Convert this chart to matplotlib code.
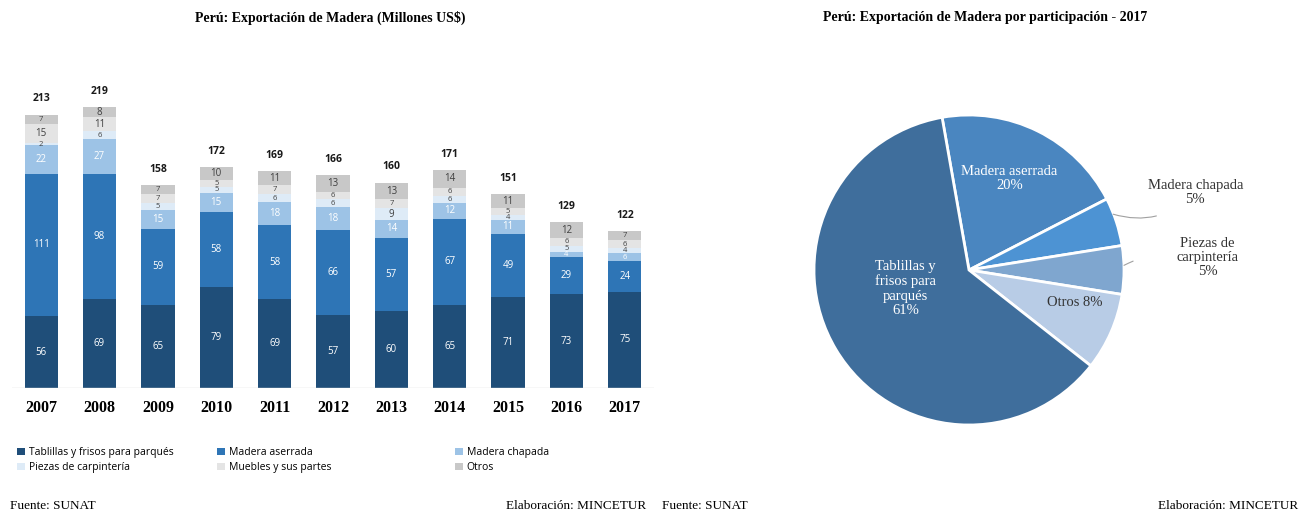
import numpy as np
import matplotlib
matplotlib.use("Agg")
import matplotlib.pyplot as plt
from matplotlib.patches import Patch

# Exportaciones de madera por producto (millones US$)
years = ["2007", "2008", "2009", "2010", "2011", "2012", "2013", "2014", "2015", "2016", "2017"]
tablillas = [56, 69, 65, 79, 69, 57, 60, 65, 71, 73, 75]
aserrada = [111, 98, 59, 58, 58, 66, 57, 67, 49, 29, 24]
chapada = [22, 27, 15, 15, 18, 18, 14, 12, 11, 4, 6]
piezas = [2, 6, 5, 5, 6, 6, 9, 6, 4, 5, 4]
muebles = [15, 11, 7, 5, 7, 6, 7, 6, 5, 6, 6]
otros = [7, 8, 7, 10, 11, 13, 13, 14, 11, 12, 7]
totales = [213, 219, 158, 172, 169, 166, 160, 171, 151, 129, 122]

# Participación 2017 (%)
pie_labels = ["Madera aserrada", "Madera chapada", "Piezas de\ncarpintería", "Otros", "Tablillas y\nfrisos para\nparqués"]
pie_values = [20, 5, 5, 8, 61]

serif = ["Liberation Serif", "DejaVu Serif"]
sans = ["Open Sans", "DejaVu Sans"]

series = [
    ("Tablillas y frisos para parqués", tablillas, "#1f4e79", "white"),
    ("Madera aserrada", aserrada, "#2e75b6", "white"),
    ("Madera chapada", chapada, "#9dc3e6", "white"),
    ("Piezas de carpintería", piezas, "#deebf7", "#404040"),
    ("Muebles y sus partes", muebles, "#e4e4e4", "#404040"),
    ("Otros", otros, "#c8c8c8", "#404040"),
]

fig = plt.figure(figsize=(13.02, 5.17), dpi=100)

# --- barras apiladas ---
ax = fig.add_axes([12 / 1302, 129 / 517, 642 / 1302, 308 / 517])
x = np.arange(len(years))
bottom = np.zeros(len(years))
handles = []
for name, vals, color, tcolor in series:
    vals = np.array(vals, dtype=float)
    ax.bar(x, vals, width=0.57, bottom=bottom, color=color, edgecolor="none")
    for xi, b, v in zip(x, bottom, vals):
        fs = 7 if v >= 8 else 5.5
        ax.text(xi, b + v / 2, f"{int(v)}", ha="center", va="center",
                fontsize=fs, color=tcolor, family=sans)
    bottom += vals
    handles.append(Patch(facecolor=color, label=name))

for xi, top, t in zip(x, bottom, totales):
    ax.text(xi, top + 8, str(t), ha="center", va="bottom", fontsize=7.5,
            fontweight="bold", family=sans, color="#1a1a1a")

ax.axhline(0, color="#d9d9d9", lw=1)
ax.set_xlim(-0.5, len(years) - 0.5)
ax.set_ylim(0, 240)
ax.set_xticks(x)
ax.set_xticklabels(years, fontsize=11.5, fontweight="bold", family=serif)
ax.tick_params(axis="x", length=0, pad=9)
ax.set_yticks([])
for s in ax.spines.values():
    s.set_visible(False)

fig.text(330 / 1302, 1 - 18 / 517, "Perú: Exportación de Madera (Millones US$)",
         ha="center", va="center", fontsize=10, fontweight="bold", family=serif)

# leyenda en tres columnas
legend_cols = [(handles[0], handles[3], 12), (handles[1], handles[4], 212), (handles[2], handles[5], 450)]
for h1, h2, px in legend_cols:
    fig.legend(handles=[h1, h2], loc="upper left",
               bbox_to_anchor=(px / 1302, 1 - 442 / 517), frameon=False,
               handlelength=0.7, handleheight=0.7,
               handletextpad=0.4, labelspacing=0.35, borderpad=0,
               prop={"family": sans, "size": 7.5})

# --- pie 2017 ---
pax = fig.add_axes([814 / 1302, 92 / 517, 310 / 1302, 310 / 517])
pie_colors = ["#4a86c0", "#4d93d3", "#7fa6cf", "#b8cce6", "#3f6e9c"]
wedges, _ = pax.pie(pie_values, colors=pie_colors, startangle=100, counterclock=False,
                    wedgeprops=dict(edgecolor="white", linewidth=2))
pax.set_xlim(-1, 1)
pax.set_ylim(-1, 1)
pax.set_aspect("equal")
pax.axis("off")

pax.text(0.26, 0.59, "Madera aserrada\n20%", ha="center", va="center",
         fontsize=10.5, color="white", family=serif, linespacing=1.1)
pax.text(-0.41, -0.12, "Tablillas y\nfrisos para\nparqués\n61%", ha="center", va="center",
         fontsize=10.5, color="white", family=serif, linespacing=1.15)
pax.text(0.68, -0.21, "Otros 8%", ha="center", va="center",
         fontsize=10.5, color="#333333", family=serif)
pax.annotate("Madera chapada\n5%", xy=(0.93, 0.36), xytext=(1.46, 0.5),
             ha="center", va="center", fontsize=10.5, color="#333333", family=serif,
             linespacing=1.1, annotation_clip=False,
             arrowprops=dict(arrowstyle="-", color="#a0a0a0", lw=0.8,
                             connectionstyle="arc3,rad=-0.3",
                             shrinkA=14, shrinkB=0))
pax.annotate("Piezas de\ncarpintería\n5%", xy=(1.0, 0.03), xytext=(1.54, 0.08),
             ha="center", va="center", fontsize=10.5, color="#333333", family=serif,
             linespacing=1.1, annotation_clip=False,
             arrowprops=dict(arrowstyle="-", color="#a0a0a0", lw=0.8,
                             connectionstyle="arc3,rad=0.2",
                             shrinkA=30, shrinkB=0))

fig.text(985 / 1302, 1 - 18 / 517, "Perú: Exportación de Madera por participación - 2017",
         ha="center", va="center", fontsize=10, fontweight="bold", family=serif)

# fuentes
foot_y = 1 - 506 / 517
fig.text(10 / 1302, foot_y, "Fuente: SUNAT", ha="left", va="center", fontsize=9.5, family=serif)
fig.text(646 / 1302, foot_y, "Elaboración: MINCETUR", ha="right", va="center", fontsize=9.5, family=serif)
fig.text(662 / 1302, foot_y, "Fuente: SUNAT", ha="left", va="center", fontsize=9.5, family=serif)
fig.text(1298 / 1302, foot_y, "Elaboración: MINCETUR", ha="right", va="center", fontsize=9.5, family=serif)

fig.savefig("out.png", dpi=100)
